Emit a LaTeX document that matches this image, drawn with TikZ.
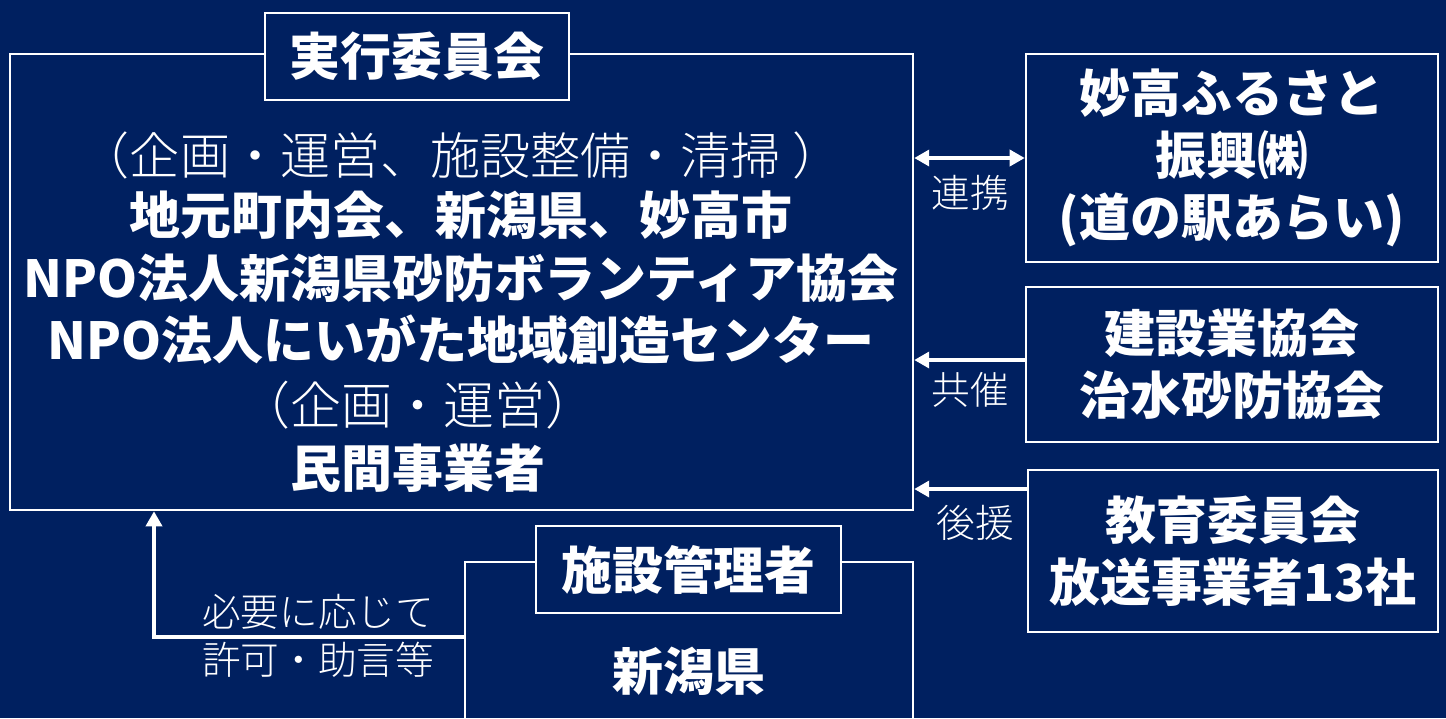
\documentclass[tikz,border=0pt]{standalone}
\usepackage{fontspec}
\setmainfont{Noto Sans CJK JP}
\newfontfamily\lightfont{Noto Sans CJK JP}[UprightFont={* Light}]
\usetikzlibrary{arrows.meta}
\definecolor{navy}{RGB}{0,32,96}
\tikzset{
  frame/.style={draw=white,line width=1.5pt,inner sep=0pt,text=white,align=center},
  big/.style={font=\fontsize{29}{35.5}\selectfont\bfseries},
  bigtext/.style={text=white,inner sep=0pt,font=\fontsize{29}{35}\selectfont\bfseries},
  thintext/.style={text=white,inner sep=0pt,font=\fontsize{28.5}{35}\selectfont\lightfont},
  labeltext/.style={text=white,inner sep=0pt,font=\fontsize{22}{26}\selectfont\lightfont},
  arr/.style={draw=white,line width=2pt,-{Triangle[length=0.3cm,width=0.32cm]}},
}

\begin{document}
\begin{tikzpicture}[x=0.02cm,y=-0.02cm]
\fill[navy] (0,0) rectangle (1446,718);
\useasboundingbox (0,0) rectangle (1446,718);
\clip (0,0) rectangle (1446,718);

% Drawing main box
\node[frame,minimum width=18.06cm,minimum height=9.12cm] (jikko) at (461.5,282) {};
\node[frame,big,fill=navy,minimum width=6.08cm,minimum height=1.74cm] (jikkotitle) at (417,56.5) {実行委員会};

% Text of main box
\node[thintext] (plan) at (461,155) {（企画・運営、施設整備・清掃 ）};
\node[bigtext] (jimoto) at (461,215) {地元町内会、新潟県、妙高市};
\node[bigtext] (npoa) at (461,278) {NPO法人新潟県砂防ボランティア協会};
\node[bigtext] (npob) at (461,340) {NPO法人にいがた地域創造センター};
\node[thintext,font=\fontsize{29}{35}\selectfont\lightfont] (unei) at (418,405) {（企画・運営）};
\node[bigtext] (minkan) at (418,468) {民間事業者};

% Drawing right boxes
\node[frame,big,minimum width=8.24cm,minimum height=4.16cm] (michi) at (1232,158) {妙高ふるさと\\振興㈱\\(道の駅あらい)};
\node[frame,big,minimum width=8.24cm,minimum height=3.10cm] (kensetsu) at (1232,364.5) {建設業協会\\治水砂防協会};
\node[frame,big,minimum width=8.20cm,minimum height=3.24cm] (kyoiku) at (1233,551) {教育委員会\\放送事業者13社};

% Drawing facility box
\node[frame,big,minimum width=8.96cm,minimum height=4.36cm] (kanri) at (689,671) {新潟県};
\node[frame,big,fill=navy,minimum width=6.10cm,minimum height=1.74cm] (kanrititle) at (688.5,569.5) {施設管理者};

% Drawing connectors
\coordinate (kyosai) at (0,360);
\coordinate (kouen) at (0,489);
\coordinate (bend) at (154,637);
\draw[arr,{Triangle[length=0.3cm,width=0.32cm]}-{Triangle[length=0.3cm,width=0.32cm]}] (michi.west) -- (michi.west -| jikko.east);
\draw[arr] (kensetsu.west |- kyosai) -- (jikko.east |- kyosai);
\draw[arr] (kyoiku.west |- kouen) -- (jikko.east |- kouen);
\draw[arr] (kanri.west |- bend) -- (bend) -- (jikko.south -| bend);

% Connector labels
\node[labeltext] (renkei) at (970,193) {連携};
\node[labeltext] (kyosailabel) at (970,390) {共催};
\node[labeltext] (kouenlabel) at (975,523) {後援};
\node[labeltext] (hitsuyo) at (318,612) {必要に応じて};
\node[labeltext] (kyoka) at (318,660) {許可・助言等};
\end{tikzpicture}
\end{document}
